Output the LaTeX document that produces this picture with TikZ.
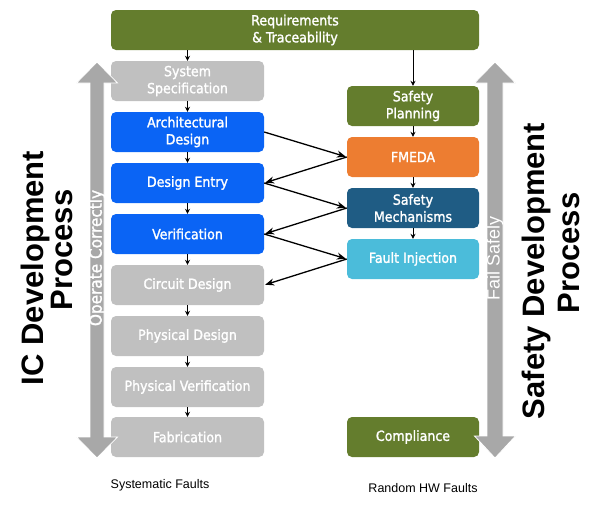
\documentclass[tikz,border=0pt]{standalone}
\usepackage{fontspec}
\setmainfont{DejaVu Sans Condensed}
\newfontfamily\boxfont{DejaVu Sans Condensed}[FakeBold=1.5]
\newfontfamily\arialfont{Liberation Sans}
\usetikzlibrary{arrows.meta}

\begin{document}
\begin{tikzpicture}[x=1pt, y=-1pt, >={Stealth[length=9pt,width=7pt]}]
  % --- CONFIGURATION ---
  \definecolor{reqGreen}{RGB}{100,125,45}      % olive
  \definecolor{icBlue}{RGB}{10,100,245}        % bleu vif
  \definecolor{icGray}{RGB}{192,192,192}
  \definecolor{fmedaOrange}{RGB}{237,125,49}
  \definecolor{mechBlue}{RGB}{31,92,132}
  \definecolor{injectBlue}{RGB}{75,188,218}
  \definecolor{bigArrow}{RGB}{168,168,168}
  \tikzset{
    stage/.style={rounded corners=5pt, text=white, align=center, inner sep=0pt,
      minimum height=40pt, font=\boxfont\fontsize{14}{17}\selectfont},
    leftstage/.style={stage, minimum width=153pt},
    rightstage/.style={stage, minimum width=132pt},
    flow/.style={->, >={Stealth[length=5pt,width=5pt]}, line width=1pt},
    cross/.style={->, line width=1.3pt, shorten >=1pt},
    bigarrow/.style={fill=bigArrow, draw=white, line width=0.8pt},
    sidetext/.style={rotate=90, text=white, inner sep=0pt},
    title/.style={rotate=90, inner sep=0pt, font=\arialfont\bfseries\fontsize{31}{31}\selectfont},
    faults/.style={inner sep=0pt, font=\arialfont\fontsize{12.5}{12.5}\selectfont}
  }

  \useasboundingbox (0,0) rectangle (591,504);

  % --- EXIGENCES ---
  \node[stage, fill=reqGreen, minimum width=368pt] (req) at (295,30) {Requirements\\\& Traceability};

  % --- FLOT IC (gauche) ---
  \node[leftstage, fill=icGray] (spec) at (187.5,81) {System\\Specification};
  \node[leftstage, fill=icBlue] (arch) at (187.5,132) {Architectural\\Design};
  \node[leftstage, fill=icBlue] (entry) at (187.5,183) {Design Entry};
  \node[leftstage, fill=icBlue] (verif) at (187.5,234) {Verification};
  \node[leftstage, fill=icGray] (circuit) at (187.5,285) {Circuit Design};
  \node[leftstage, fill=icGray] (phys) at (187.5,336) {Physical Design};
  \node[leftstage, fill=icGray] (physver) at (187.5,387) {Physical Verification};
  \node[leftstage, fill=icGray] (fab) at (187.5,437) {Fabrication};

  % --- FLOT SECURITE (droite) ---
  \node[rightstage, fill=reqGreen] (plan) at (413,106) {Safety\\Planning};
  \node[rightstage, fill=fmedaOrange] (fmeda) at (413,157) {FMEDA};
  \node[rightstage, fill=mechBlue] (mech) at (413,208) {Safety\\Mechanisms};
  \node[rightstage, fill=injectBlue] (inject) at (413,259) {Fault Injection};
  \node[rightstage, fill=reqGreen] (comply) at (413,437) {Compliance};

  % Petites flèches verticales
  \draw[flow] (spec.north |- req.south) -- (spec);
  \draw[flow] (plan.north |- req.south) -- (plan);
  \foreach \a/\b in {spec/arch, arch/entry, entry/verif, verif/circuit,
                     circuit/phys, phys/physver, physver/fab,
                     plan/fmeda, fmeda/mech, mech/inject}
    \draw[flow] (\a) -- (\b);

  % Zigzag entre les deux flots
  \draw[cross] (arch.east) -- (fmeda.west);
  \draw[cross] (fmeda.west) -- (entry.east);
  \draw[cross] (entry.east) -- (mech.west);
  \draw[cross] (mech.west) -- (verif.east);
  \draw[cross] (verif.east) -- (inject.west);
  \draw[cross] (inject.west) -- (circuit.east);

  % --- GRANDES FLECHES ---
  \filldraw[bigarrow] (97,62) -- (117.5,83) -- (104,83) -- (104,437) -- (117.5,437) -- (97,458)
    -- (76.5,437) -- (90,437) -- (90,83) -- (76.5,83) -- cycle;
  \filldraw[bigarrow] (495,62) -- (515.5,83) -- (503,83) -- (503,436) -- (515.5,436) -- (495,458)
    -- (474.5,436) -- (487,436) -- (487,83) -- (474.5,83) -- cycle;
  \node[sidetext, font=\boxfont\fontsize{17}{17}\selectfont] (operate) at (97,258) {Operate Correctly};
  \node[sidetext, font=\arialfont\fontsize{18}{18}\selectfont] (failsafe) at (495,258) {Fail Safely};

  % Titres latéraux
  \node[title] (icTitleA) at (35,268) {IC Development};
  \node[title] (icTitleB) at (62,250) {Process};
  \node[title] (safeTitleA) at (536,271) {Safety Development};
  \node[title] (safeTitleB) at (569,253) {Process};

  % Types de fautes
  \node[faults] (sysFaults) at (160,485) {Systematic Faults};
  \node[faults] (hwFaults) at (423,488) {Random HW Faults};
\end{tikzpicture}
\end{document}
